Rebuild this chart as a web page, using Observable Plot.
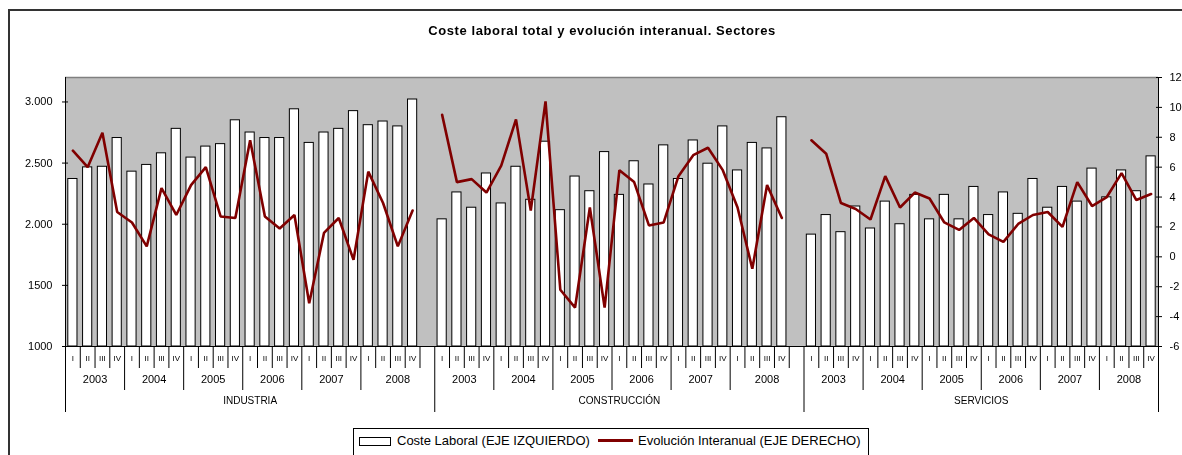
<!DOCTYPE html>
<html>
<head>
<meta charset="utf-8">
<script src="https://cdn.jsdelivr.net/npm/d3@7"></script>
<script src="https://cdn.jsdelivr.net/npm/@observablehq/plot@0.6"></script>
<style>
  body { margin: 0; background: #fff; font-family: "Liberation Sans", Arial, sans-serif; }
  #wrap { position: relative; width: 1182px; height: 455px; overflow: hidden; background: #fff; }
  #frame { position: absolute; left: 8px; top: 9px; width: 1300px; height: 600px; border-left: 2px solid #333; border-top: 2px solid #333; }
  #chart { position: absolute; left: 0; top: 0; will-change: transform; }
  #title { position: absolute; left: 0; top: 23px; width: 1204px; text-align: center; font-weight: bold; font-size: 13px; letter-spacing: 0.6px; line-height: 15px; color: #000; }
  #legend { position: absolute; left: 353px; top: 428px; width: 514px; height: 40px; border: 1px solid #000; background: #fff; font-size: 13px; color: #000; }
  #legend .sw { position: absolute; left: 5px; top: 8px; width: 30px; height: 7px; border: 1px solid #000; background: #fff; }
  #legend .t1 { position: absolute; left: 43px; top: 4px; line-height: 15px; white-space: nowrap; }
  #legend .ln { position: absolute; left: 244px; top: 10px; width: 35px; height: 3px; background: #800000; }
  #legend .t2 { position: absolute; left: 284px; top: 4px; line-height: 15px; white-space: nowrap; }
</style>
</head>
<body>
<div id="wrap">
  <div id="frame"></div>
  <div id="chart"></div>
  <div id="title">Coste laboral total y evolución interanual. Sectores</div>
  <div id="legend">
    <div class="sw"></div><div class="t1">Coste Laboral (EJE IZQUIERDO)</div>
    <div class="ln"></div><div class="t2">Evolución Interanual (EJE DERECHO)</div>
  </div>
</div>
<script>
// ---------- data ----------
const sectors = ["INDUSTRIA", "CONSTRUCCIÓN", "SERVICIOS"];
const years = ["2003", "2004", "2005", "2006", "2007", "2008"];
const quarters = ["I", "II", "III", "IV"];

const costeIndustria = [2370, 2465, 2470, 2705, 2430, 2485, 2580, 2780, 2545, 2635, 2655, 2850, 2750, 2705, 2705, 2940, 2665, 2750, 2780, 2925, 2810, 2840, 2800, 3020];
const costeConstruccion = [2040, 2260, 2135, 2415, 2170, 2470, 2200, 2675, 2115, 2390, 2270, 2590, 2240, 2515, 2325, 2645, 2370, 2685, 2495, 2800, 2440, 2665, 2620, 2875];
const costeServicios = [1915, 2075, 1935, 2145, 1965, 2185, 2000, 2240, 2040, 2240, 2040, 2305, 2075, 2260, 2085, 2370, 2135, 2305, 2185, 2455, 2220, 2440, 2270, 2555];

const evolIndustria = [7.1, 6.0, 8.3, 3.0, 2.3, 0.7, 4.6, 2.8, 4.8, 6.0, 2.7, 2.6, 7.8, 2.7, 1.9, 2.8, -3.1, 1.6, 2.6, -0.2, 5.7, 3.6, 0.7, 3.1];
const evolConstruccion = [9.5, 5.0, 5.2, 4.3, 6.1, 9.2, 3.1, 10.4, -2.2, -3.4, 3.3, -3.4, 5.8, 5.0, 2.1, 2.3, 5.4, 6.8, 7.3, 5.8, 3.3, -0.8, 4.8, 2.6];
const evolServicios = [7.8, 6.9, 3.6, 3.2, 2.5, 5.4, 3.3, 4.3, 3.9, 2.3, 1.8, 2.6, 1.5, 1.0, 2.2, 2.8, 3.0, 2.0, 5.0, 3.4, 4.0, 5.6, 3.8, 4.2];

const leftTicks = [1000, 1500, 2000, 2500, 3000];
const leftTickLabels = ["1000", "1500", "2.000", "2.500", "3.000"];
const rightTicks = [-6, -4, -2, 0, 2, 4, 6, 8, 10, 12];
const leftDomain = [1000, 3200];
const rightDomain = [-6, 12];

// ---------- build table ----------
const coste = [costeIndustria, costeConstruccion, costeServicios];
const evol = [evolIndustria, evolConstruccion, evolServicios];
const nQ = years.length * quarters.length;          // 24 quarters per sector
const sectorSpan = nQ + 1;                            // plus one empty slot between sectors
const nSlots = sectors.length * sectorSpan - 1;

// map a right-axis value into the left-axis domain
const toLeft = v => leftDomain[0] + (v - rightDomain[0]) * (leftDomain[1] - leftDomain[0]) / (rightDomain[1] - rightDomain[0]);
const fromLeft = y => rightDomain[0] + (y - leftDomain[0]) * (rightDomain[1] - rightDomain[0]) / (leftDomain[1] - leftDomain[0]);

const rows = [];
sectors.forEach((s, si) => {
  years.forEach((yr, yi) => {
    quarters.forEach((q, qi) => {
      const i = yi * quarters.length + qi;
      rows.push({sector: s, year: yr, q, slot: si * sectorSpan + i, coste: coste[si][i], evol: evol[si][i]});
    });
  });
});

const sectorStart = si => si * sectorSpan;
const sectorEnd = si => Math.min(si * sectorSpan + sectorSpan, nSlots);

const quarterTicks = [], yearTicks = [], yearLabels = [], sectorLabels = [];
sectors.forEach((s, si) => {
  const a = sectorStart(si), b = sectorEnd(si);
  for (let k = a + 1; k < b; k++) {
    if ((k - a) % quarters.length === 0 && (k - a) < nQ) yearTicks.push(k);
    else quarterTicks.push(k);
  }
  years.forEach((yr, yi) => {
    const y0 = a + yi * quarters.length;
    const y1 = yi === years.length - 1 ? b : y0 + quarters.length;
    yearLabels.push({text: yr, x: (y0 + y1) / 2});
  });
  sectorLabels.push({text: s, x: (a + b) / 2});
});
const sectorInner = d3.range(1, sectors.length).map(sectorStart);
const axisEdges = [0, nSlots];

const W = 1182, H = 455;
const base = leftDomain[0];

const chart = Plot.plot({
  width: W,
  height: H,
  marginLeft: 65,
  marginRight: 24,
  marginTop: 77,
  marginBottom: 109,
  style: {fontFamily: "'Liberation Sans', Arial, sans-serif", fontSize: "11px", color: "#000", background: "transparent"},
  x: {type: "linear", domain: [0, nSlots], axis: null},
  y: {domain: leftDomain, axis: null},
  marks: [
    Plot.frame({fill: "#C0C0C0", stroke: null}),
    Plot.ruleY([leftDomain[1]], {stroke: "#808080", strokeWidth: 1.5}),
    Plot.rect(rows, {x1: "slot", x2: d => d.slot + 1, y1: () => base, y2: "coste", fill: "white", stroke: "black", strokeWidth: 1, insetLeft: 2.8, insetRight: 2.8}),
    Plot.line(rows, {x: d => d.slot + 0.5, y: d => toLeft(d.evol), z: "sector", stroke: "#800000", strokeWidth: 2.6, strokeLinejoin: "miter"}),
    Plot.ruleY([base], {stroke: "black"}),
    Plot.ruleX(axisEdges, {stroke: "black", insetBottom: -66}),
    Plot.ruleX(sectorInner, {y1: () => base, y2: () => base, stroke: "black", insetBottom: -66}),
    Plot.ruleX(yearTicks, {y1: () => base, y2: () => base, stroke: "black", insetBottom: -44}),
    Plot.ruleX(quarterTicks, {y1: () => base, y2: () => base, stroke: "black", insetBottom: -22}),
    Plot.text(rows, {x: d => d.slot + 0.5, text: "q", frameAnchor: "bottom", dy: 14, fontSize: 8, fill: "#000"}),
    Plot.text(yearLabels, {x: "x", text: "text", frameAnchor: "bottom", dy: 36, fontSize: 11, fill: "#000"}),
    Plot.text(sectorLabels, {x: "x", text: "text", frameAnchor: "bottom", dy: 57, fontSize: 10, fill: "#000"}),
    Plot.axisY(leftTicks, {anchor: "left", label: null, tickSize: 6, dx: 3, tickPadding: 10, fontSize: 11, tickFormat: d => leftTickLabels[leftTicks.indexOf(d)]}),
    Plot.axisY(rightTicks.map(toLeft), {anchor: "right", label: null, tickSize: 6, dx: -3, tickPadding: 8, fontSize: 11, tickFormat: d => String(Math.round(fromLeft(d)))})
  ]
});
document.getElementById("chart").appendChild(chart);
</script>
</body>
</html>
